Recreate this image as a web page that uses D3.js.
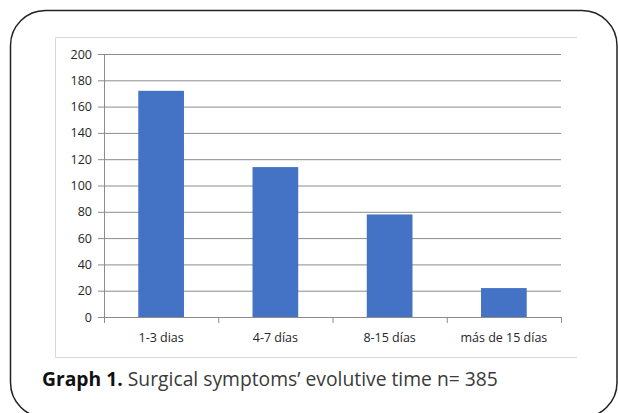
<!DOCTYPE html>
<html>
<head>
<meta charset="utf-8">
<script src="https://cdn.jsdelivr.net/npm/d3@7"></script>
<style>
  body { margin: 0; background: #fff; }
  svg { display: block; }
  .tick text { font-family: "Open Sans", sans-serif; fill: #262626; }
</style>
</head>
<body>
<script>
const categories = ["1-3 dias", "4-7 días", "8-15 días", "más de 15 días"];
const values = [172, 114, 78, 22];
const yTicks = [0, 20, 40, 60, 80, 100, 120, 140, 160, 180, 200];
const caption = "Graph 1.";
const captionRest = " Surgical symptoms\u2019 evolutive time n= 385";

const W = 618, H = 413;
const margin = { top: 54, right: 57, bottom: 96, left: 104 },
    width = W - margin.left - margin.right,
    height = H - margin.top - margin.bottom;

const svg = d3.select("body").append("svg")
    .attr("width", W)
    .attr("height", H);

// outer rounded frame
svg.append("rect")
    .attr("x", 10.5).attr("y", 10.5)
    .attr("width", 606.5).attr("height", 407)
    .attr("rx", 35).attr("ry", 35)
    .attr("fill", "none")
    .attr("stroke", "#222")
    .attr("stroke-width", 1.5);

// chart area border (top, left, bottom)
svg.append("path")
    .attr("d", "M577,37.5H55.5V357.5H577")
    .attr("fill", "none")
    .attr("stroke", "#d9d9d9")
    .attr("stroke-width", 1);

const x = d3.scaleBand().domain(categories).range([0, width]).paddingInner(0.6).paddingOuter(0.3);
const xTick = d3.scaleLinear().domain([0, categories.length]).range([0, width]);
const y = d3.scaleLinear().domain([0, 200]).range([height, 0]);

const g = svg.append("g")
    .attr("transform", "translate(" + margin.left + "," + margin.top + ")");

// gridlines
g.append("g")
    .attr("class", "grid")
    .call(d3.axisLeft(y).tickValues(yTicks).tickSize(-width).tickFormat(""))
    .call(s => s.select(".domain").remove())
    .call(s => s.selectAll("line").attr("stroke", "#8c8c8c"));

// bars
g.selectAll(".bar")
    .data(values)
    .enter().append("rect")
    .attr("class", "bar")
    .attr("x", (d, i) => x(categories[i]))
    .attr("width", x.bandwidth())
    .attr("y", d => y(d))
    .attr("height", d => height - y(d))
    .attr("fill", "#4472c4");

// y axis
g.append("g")
    .call(d3.axisLeft(y).tickValues(yTicks).tickSize(6).tickPadding(6))
    .call(s => s.select(".domain").attr("stroke", "#8c8c8c"))
    .call(s => s.selectAll(".tick line").attr("stroke", "#8c8c8c"))
    .call(s => s.selectAll(".tick text").attr("font-size", 12.5));

// x axis with boundary ticks
const xa = g.append("g").attr("transform", "translate(0," + height + ")");
xa.call(d3.axisBottom(xTick).tickValues(d3.range(categories.length + 1)).tickSize(6).tickFormat(""))
    .call(s => s.select(".domain").attr("stroke", "#8c8c8c").attr("d", "M0.5,6V0.5H" + (width + 0.5) + "V6"))
    .call(s => s.selectAll(".tick line").attr("stroke", "#8c8c8c"));

xa.selectAll(".cat")
    .data(categories)
    .enter().append("text")
    .attr("class", "cat")
    .attr("x", d => x(d) + x.bandwidth() / 2)
    .attr("y", 25)
    .attr("text-anchor", "middle")
    .attr("font-family", "Open Sans, sans-serif")
    .attr("font-size", 12.5)
    .attr("fill", "#262626")
    .text(d => d);

// caption
const cap = svg.append("text")
    .attr("x", 42).attr("y", 386)
    .attr("font-family", "Open Sans, sans-serif")
    .attr("font-size", 19.3)
    .attr("fill", "#111");
cap.append("tspan").attr("font-weight", "bold").text(caption);
cap.append("tspan").attr("fill", "#3a3a3a").text(captionRest);
</script>
</body>
</html>
